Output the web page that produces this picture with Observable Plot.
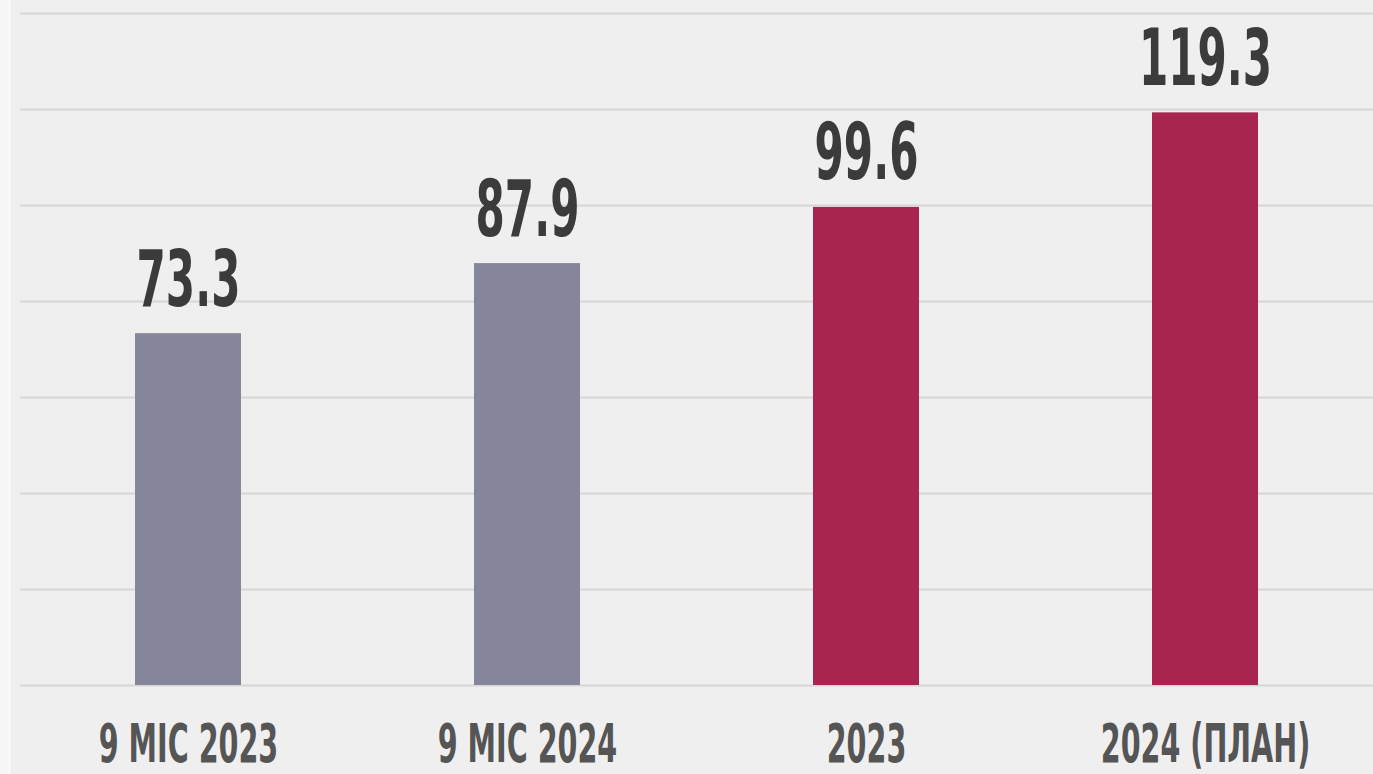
<!DOCTYPE html>
<html>
<head>
<meta charset="utf-8">
<script src="https://cdn.jsdelivr.net/npm/d3@7"></script>
<script src="https://cdn.jsdelivr.net/npm/@observablehq/plot@0.6"></script>
<style>
  html, body { margin: 0; padding: 0; }
  body { background: linear-gradient(to right, #f7f7f7 0 11px, #efefef 11px); width: 1373px; height: 774px; overflow: hidden; }
  #chart svg { display: block; background: transparent; }
</style>
</head>
<body>
<div id="chart"></div>
<script>
const categories = ["9 МІС 2023", "9 МІС 2024", "2023", "2024 (ПЛАН)"];
const values = [73.3, 87.9, 99.6, 119.3];
const groups = ["period", "period", "year", "year"];
const yTicks = [0, 20, 40, 60, 80, 100, 120, 140];

const data = categories.map((c, i) => ({category: c, value: values[i], group: groups[i]}));
const FONT = "'DejaVu Sans Condensed', 'DejaVu Sans', sans-serif";

const chart = Plot.plot({
  width: 1373,
  height: 774,
  marginLeft: 20,
  marginRight: 0,
  marginTop: 13,
  marginBottom: 89,
  style: {background: "transparent", fontFamily: FONT, fontWeight: "bold", fontSize: "53px", color: "#555555"},
  x: {domain: categories, paddingInner: 0.6873, paddingOuter: 0.3392, label: null, tickSize: 0, tickPadding: 39},
  y: {domain: [0, 140], axis: null},
  color: {domain: ["period", "year"], range: ["#86869a", "#a8254f"]},
  marks: [
    Plot.ruleY(yTicks, {stroke: "#d6d6d6", strokeWidth: 2}),
    Plot.barY(data, {x: "category", y: "value", fill: "group"}),
    Plot.text(data, {x: "category", y: "value", text: d => d.value.toFixed(1), lineAnchor: "bottom", dy: -28, fontSize: 78, fontWeight: "bold", fill: "#3b3b3b"})
  ]
});

chart.querySelectorAll("text").forEach(t => {
  const tr = t.getAttribute("transform");
  if (tr) {
    t.setAttribute("transform", tr + " scale(0.6,1)");
  } else {
    const x = +(t.getAttribute("x") || 0), y = +(t.getAttribute("y") || 0);
    t.removeAttribute("x"); t.removeAttribute("y");
    t.setAttribute("transform", `translate(${x},${y}) scale(0.6,1)`);
  }
});

document.getElementById("chart").appendChild(chart);
</script>
</body>
</html>
